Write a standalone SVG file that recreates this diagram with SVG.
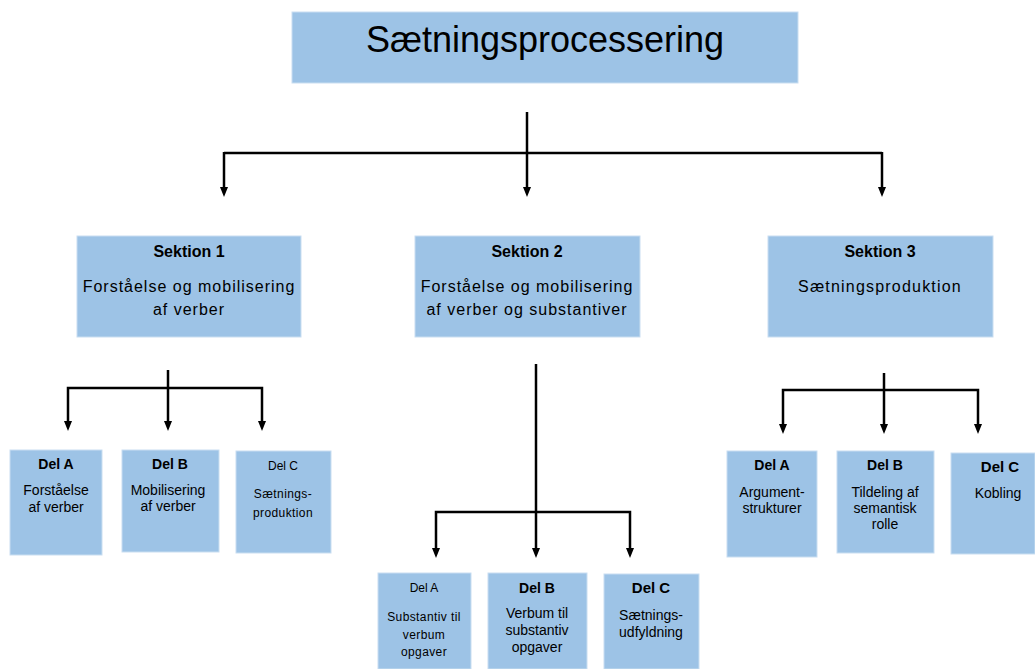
<svg xmlns="http://www.w3.org/2000/svg" width="1035" height="669" viewBox="0 0 1035 669">
<style>
.box{fill:#9dc3e6;stroke:#c9def1;stroke-width:1}
text{font-family:"Liberation Sans",Arial,sans-serif;fill:#000;text-anchor:middle}
.title{font-size:36px}
.sh{font-size:16px;font-weight:bold}
.sb{font-size:16px;letter-spacing:1px}
.dh{font-size:14px;font-weight:bold}
.db{font-size:14px}
.dhs{font-size:12px}
.dbs{font-size:12px;letter-spacing:0.4px}
.c{fill:none;stroke:#000;stroke-width:2.5}
</style>
<g id="connectors">
<path class="c" d="M224,153 H882"/>
<line class="c" x1="527" y1="112" x2="527" y2="187"/>
<path d="M523,187 L531,187 L527,197 Z"/>
<line class="c" x1="224" y1="152" x2="224" y2="187"/>
<path d="M220,187 L228,187 L224,197 Z"/>
<line class="c" x1="882" y1="152" x2="882" y2="187"/>
<path d="M878,187 L886,187 L882,197 Z"/>

<line class="c" x1="168" y1="370" x2="168" y2="421"/>
<path d="M164,421 L172,421 L168,431 Z"/>
<path class="c" d="M68,421 V388 H262 V421"/>
<path d="M64,421 L72,421 L68,431 Z"/>
<path d="M258,421 L266,421 L262,431 Z"/>

<line class="c" x1="536" y1="364" x2="536" y2="548"/>
<path d="M532,548 L540,548 L536,558 Z"/>
<path class="c" d="M436,548 V512 H630 V548"/>
<path d="M432,548 L440,548 L436,558 Z"/>
<path d="M626,548 L634,548 L630,558 Z"/>

<line class="c" x1="884" y1="373" x2="884" y2="424"/>
<path d="M880,424 L888,424 L884,434 Z"/>
<path class="c" d="M783,424 V390 H978 V424"/>
<path d="M779,424 L787,424 L783,434 Z"/>
<path d="M974,424 L982,424 L978,434 Z"/>
</g>
<g id="title">
<rect class="box" x="292" y="12" width="506" height="71"/>
<text class="title" x="545" y="52">Sætningsprocessering</text>
</g>
<g id="sektion1">
<rect class="box" x="77" y="236" width="224" height="101"/>
<text class="sh" x="189" y="257">Sektion 1</text>
<text class="sb" x="189" y="292">Forståelse og mobilisering</text>
<text class="sb" x="189" y="315">af verber</text>
</g>
<g id="sektion2">
<rect class="box" x="415" y="236" width="225" height="101"/>
<text class="sh" x="527" y="257">Sektion 2</text>
<text class="sb" x="527" y="292">Forståelse og mobilisering</text>
<text class="sb" x="527" y="315">af verber og substantiver</text>
</g>
<g id="sektion3">
<rect class="box" x="768" y="236" width="225" height="101"/>
<text class="sh" x="880" y="257">Sektion 3</text>
<text class="sb" x="880" y="292" style="letter-spacing:1.2px">Sætningsproduktion</text>
</g>
<g id="s1-delA">
<rect class="box" x="10" y="450" width="92" height="105"/>
<text class="dh" x="56" y="469">Del A</text>
<text class="db" x="56" y="495">Forståelse</text>
<text class="db" x="56" y="512">af verber</text>
</g>
<g id="s1-delB">
<rect class="box" x="122" y="450" width="97" height="102"/>
<text class="dh" x="170" y="469">Del B</text>
<text class="db" x="168" y="495">Mobilisering</text>
<text class="db" x="168" y="511">af verber</text>
</g>
<g id="s1-delC">
<rect class="box" x="236" y="451" width="95" height="102"/>
<text class="dhs" x="283" y="470">Del C</text>
<text class="dbs" x="283" y="498">Sætnings-</text>
<text class="dbs" x="283" y="517">produktion</text>
</g>
<g id="s2-delA">
<rect class="box" x="378" y="573" width="93" height="96"/>
<text class="dhs" x="424" y="592">Del A</text>
<text class="dbs" x="424" y="621">Substantiv til</text>
<text class="dbs" x="424" y="639">verbum</text>
<text class="dbs" x="424" y="656">opgaver</text>
</g>
<g id="s2-delB">
<rect class="box" x="488" y="573" width="99" height="96"/>
<text class="dh" x="537" y="593">Del B</text>
<text class="db" x="537" y="618">Verbum til</text>
<text class="db" x="537" y="635">substantiv</text>
<text class="db" x="537" y="652">opgaver</text>
</g>
<g id="s2-delC">
<rect class="box" x="604" y="574" width="95" height="95"/>
<text class="dh" x="651" y="593" style="font-size:15px">Del C</text>
<text class="db" x="651" y="620">Sætnings-</text>
<text class="db" x="651" y="637">udfyldning</text>
</g>
<g id="s3-delA">
<rect class="box" x="727" y="451" width="90" height="106"/>
<text class="dh" x="772" y="470">Del A</text>
<text class="db" x="772" y="497">Argument-</text>
<text class="db" x="772" y="513">strukturer</text>
</g>
<g id="s3-delB">
<rect class="box" x="837" y="451" width="97" height="102"/>
<text class="dh" x="885" y="470">Del B</text>
<text class="db" x="885" y="497">Tildeling af</text>
<text class="db" x="885" y="513">semantisk</text>
<text class="db" x="885" y="529">rolle</text>
</g>
<g id="s3-delC">
<rect class="box" x="951" y="453" width="84" height="101"/>
<text class="dh" x="1000" y="472" style="font-size:15px">Del C</text>
<text class="db" x="998" y="498">Kobling</text>
</g>
</svg>
